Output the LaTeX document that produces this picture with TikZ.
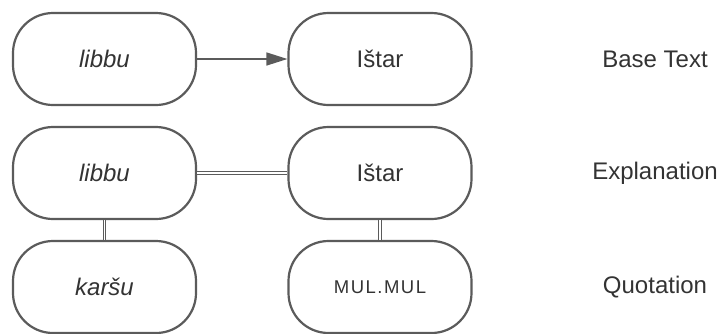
\documentclass[tikz,border=0pt]{standalone}
\usepackage{fontspec}
\setmainfont{Liberation Sans}
\usetikzlibrary{arrows.meta}
\definecolor{edge}{HTML}{5B5B5B}
\definecolor{ink}{HTML}{333333}
\begin{document}
\begin{tikzpicture}[x=1pt,y=-1pt,
  term/.style={draw=edge, line width=2.2pt, rectangle, rounded corners=40pt,
    minimum width=183pt, minimum height=92pt, inner sep=0pt,
    text=ink, font=\fontsize{24}{28}\selectfont},
  rowlabel/.style={text=ink, font=\fontsize{24}{28}\selectfont, inner sep=0pt},
  link/.style={draw=edge, line width=1.1pt, double=white, double distance=1.6pt},
  flow/.style={draw=edge, line width=1.4pt, -{Triangle[length=21pt,width=13pt]}}]
\useasboundingbox (0,0) rectangle (722,333);

% base text row
\node[term] (b1) at (104.5,59) {\itshape libbu};
\node[term] (b2) at (380,59) {Ištar};
\node[rowlabel] (lb) at (655,59) {Base Text};

% explanation row
\node[term] (e1) at (104.5,173) {\itshape libbu};
\node[term] (e2) at (380,173) {Ištar};
\node[rowlabel] (le) at (655,173) {Explanation};

% quotation row
\node[term] (q1) at (104.5,287) {\itshape karšu};
\node[term] (q2) at (380,287) {\addfontfeature{LetterSpace=8}\fontsize{18.5}{22}\selectfont MUL.MUL};
\node[rowlabel] (lq) at (655,287) {Quotation};

% connectors
\draw[flow] (b1) -- (b2);
\draw[link] (e1) -- (e2);
\draw[link] (e1) -- (q1);
\draw[link] (e2) -- (q2);
\end{tikzpicture}
\end{document}
